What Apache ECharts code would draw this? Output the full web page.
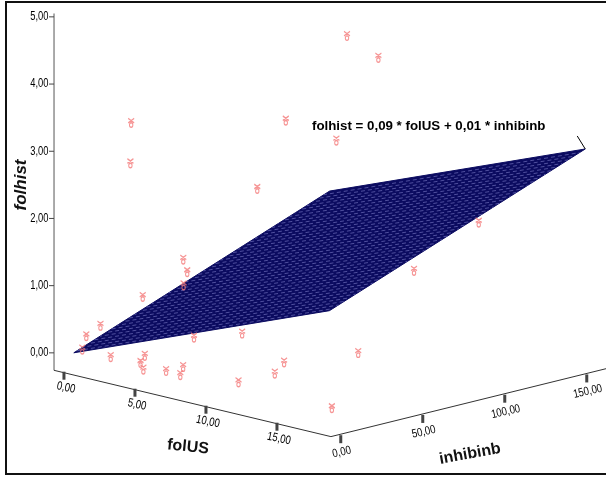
<!DOCTYPE html>
<html><head><meta charset="utf-8">
<script src="https://cdn.jsdelivr.net/npm/echarts@6/dist/echarts.min.js"></script>
<style>html,body{margin:0;padding:0;background:#fff}#c{width:606px;height:479px}</style>
</head><body><div id="c"></div>
<script>
// ---- data ----
const folUS    = [10.0, 9.9, 3.0, 8.0, 2.6, 12.6, 8.3, 10.5, 10.1, 5.4, 5.1, 6.0, 3.7, 1.3, 0.65, 0.6, 2.6, 5.0, 5.0, 4.7, 4.9, 6.5, 7.7, 7.5, 10.7, 13.1, 12.5, 13.0, 11.6, 18.0];
const inhibinb = [80, 100, 9, 60, 12, 51, 40, 156, 120, 20, 25, 15, 10, 5, 2, 0, 0, 30, 0, 0, 0, 0, 0, 0, 10, 60, 20, 10, 0, 1.5];
const folhist  = [4.74, 4.29, 3.52, 3.50, 2.88, 3.49, 2.62, 1.53, 1.01, 1.54, 1.31, 1.22, 0.96, 0.44, 0.27, 0.08, 0.07, 0.30, 0.21, 0.09, 0.0, 0.06, 0.18, 0.05, 0.77, 0.30, 0.37, 0.29, 0.15, 0.08];
const folUSTicks = [0, 5, 10, 15];
const inhibinbTicks = [0, 50, 100, 150];
const folhistTicks = [0, 1, 2, 3, 4, 5];
const coefFolUS = 0.0854, coefInhibinb = 0.0094;   // fitted plane (shown rounded)
const equationText = 'folhist = 0,09 * folUS + 0,01 * inhibinb';
const fmt = v => v.toFixed(2).replace('.', ',');

// ---- 3D view (axis box ranges + oblique projection) ----
const boxF = [-0.7, 18.8], boxI = [-6, 165], boxZ = [-0.26, 5.05];
const ORIGIN = [73.8, 352.8], U = [14.2, 3.4], V = [1.64, -0.405], W = [0, -67.2];
function P(f, i, z) { return [ORIGIN[0] + f*U[0] + i*V[0] + z*W[0], ORIGIN[1] + f*U[1] + i*V[1] + z*W[1]]; }
const planeZ = (f, i) => coefFolUS*f + coefInhibinb*i;
const fMax = Math.max(...folUS), iMax = Math.max(...inhibinb);

const FONT = "'Liberation Sans', Arial, sans-serif";
const chart = echarts.init(document.getElementById('c'), null, {renderer: 'canvas'});

const pts = folUS.map((f, k) => P(f, inhibinb[k], folhist[k]));

function renderAxes(params, api) {
  const c = (f, i, z) => api.coord(P(f, i, z));
  const ch = [];
  const line = (a, b, stroke, w) => ch.push({type: 'line', shape: {x1: a[0], y1: a[1], x2: b[0], y2: b[1]}, style: {stroke: stroke, lineWidth: w}});
  // vertical axis
  line(c(boxF[0], boxI[0], boxZ[0]), c(boxF[0], boxI[0], boxZ[1]), '#555', 1);
  folhistTicks.forEach(t => {
    const p = c(boxF[0], boxI[0], t);
    line([p[0] - 5, p[1]], p, '#444', 1);
    ch.push({type: 'text', x: p[0] - 5.5, y: p[1], scaleX: 0.78,
      style: {text: fmt(t), font: '12px ' + FONT, fill: '#000', align: 'right', verticalAlign: 'middle'}});
  });
  // floor edges
  const corner = c(boxF[1], boxI[0], boxZ[0]);
  line(c(boxF[0], boxI[0], boxZ[0]), corner, '#333', 1);
  line(corner, c(boxF[1], boxI[1], boxZ[0]), '#333', 1);
  folUSTicks.forEach(t => {
    const p = c(t, boxI[0], boxZ[0]);
    ch.push({type: 'rect', shape: {x: p[0] - 1.5, y: p[1] - 1, width: 3, height: 8}, style: {fill: '#444'}});
    ch.push({type: 'text', x: p[0] + 2, y: p[1] + 15, rotation: -0.2, scaleX: 0.8,
      style: {text: fmt(t), font: '12px ' + FONT, fill: '#000', align: 'center', verticalAlign: 'middle'}});
  });
  inhibinbTicks.forEach(t => {
    const p = c(boxF[1], t, boxZ[0]);
    ch.push({type: 'rect', shape: {x: p[0] - 1.5, y: p[1] + 1, width: 3, height: 8}, style: {fill: '#444'}});
    ch.push({type: 'text', x: p[0] + 1, y: p[1] + 18, rotation: 0.22, scaleX: 0.8,
      style: {text: fmt(t), font: '12px ' + FONT, fill: '#000', align: 'center', verticalAlign: 'middle'}});
  });
  return {type: 'group', children: ch};
}

function renderPlane(params, api) {
  const c = (f, i) => api.coord(P(f, i, planeZ(f, i)));
  const poly = [c(0, 0), c(fMax, 0), c(fMax, iMax), c(0, iMax)];
  const ch = [{type: 'polygon', shape: {points: poly}, style: {fill: '#0b0b60', stroke: '#0b0b60', lineWidth: 1}}];
  let k = 0;
  for (let i = 2; i < iMax; i += 3.5, k++) {
    const a = c(0, i), b = c(fMax, i);
    ch.push({type: 'line', shape: {x1: a[0], y1: a[1], x2: b[0], y2: b[1]},
      style: {stroke: 'rgba(125,125,200,0.6)', lineWidth: 1, lineDash: [4, 3], lineDashOffset: (k * 2.3) % 7}});
  }
  const far = poly[2];
  ch.push({type: 'line', shape: {x1: far[0], y1: far[1], x2: far[0] - 8, y2: far[1] - 13}, style: {stroke: '#000', lineWidth: 1}});
  return {type: 'group', children: ch};
}

chart.setOption({
  animation: false,
  grid: {left: 0, right: 0, top: 0, bottom: 0},
  xAxis: {type: 'value', min: 0, max: 606, show: false},
  yAxis: {type: 'value', min: 0, max: 479, inverse: true, show: false},
  series: [
    {type: 'custom', renderItem: renderAxes, data: [[0, 0]], z: 1, silent: true},
    {type: 'custom', renderItem: renderPlane, data: [[0, 0]], z: 2, silent: true},
    {type: 'scatter', data: pts, z: 3, symbol: 'path://M1,0L9,7M9,0L1,7M5,7C2,7 2,14 5,14C8,14 8,7 5,7',
      symbolSize: [6, 9], itemStyle: {color: 'rgba(255,255,255,0)', borderColor: '#f47a7a', borderWidth: 1.2}}
  ],
  graphic: [
    {type: 'polyline', shape: {points: [[606, 2], [6, 2], [6, 474], [606, 474]]}, style: {fill: 'none', stroke: '#111', lineWidth: 2}, z: 10},
    {type: 'text', x: 312, y: 126, style: {text: equationText, font: 'bold 13.3px ' + FONT, fill: '#000', verticalAlign: 'middle'}},
    {type: 'text', x: 188, y: 447, rotation: -0.1, style: {text: 'folUS', font: 'bold 16px ' + FONT, fill: '#111', align: 'center', verticalAlign: 'middle'}},
    {type: 'text', x: 470, y: 454, rotation: 0.18, style: {text: 'inhibinb', font: 'bold 16px ' + FONT, fill: '#111', align: 'center', verticalAlign: 'middle'}},
    {type: 'text', x: 21, y: 185, rotation: Math.PI / 2, style: {text: 'folhist', font: 'italic bold 17px ' + FONT, fill: '#111', align: 'center', verticalAlign: 'middle'}}
  ]
});
</script></body></html>
